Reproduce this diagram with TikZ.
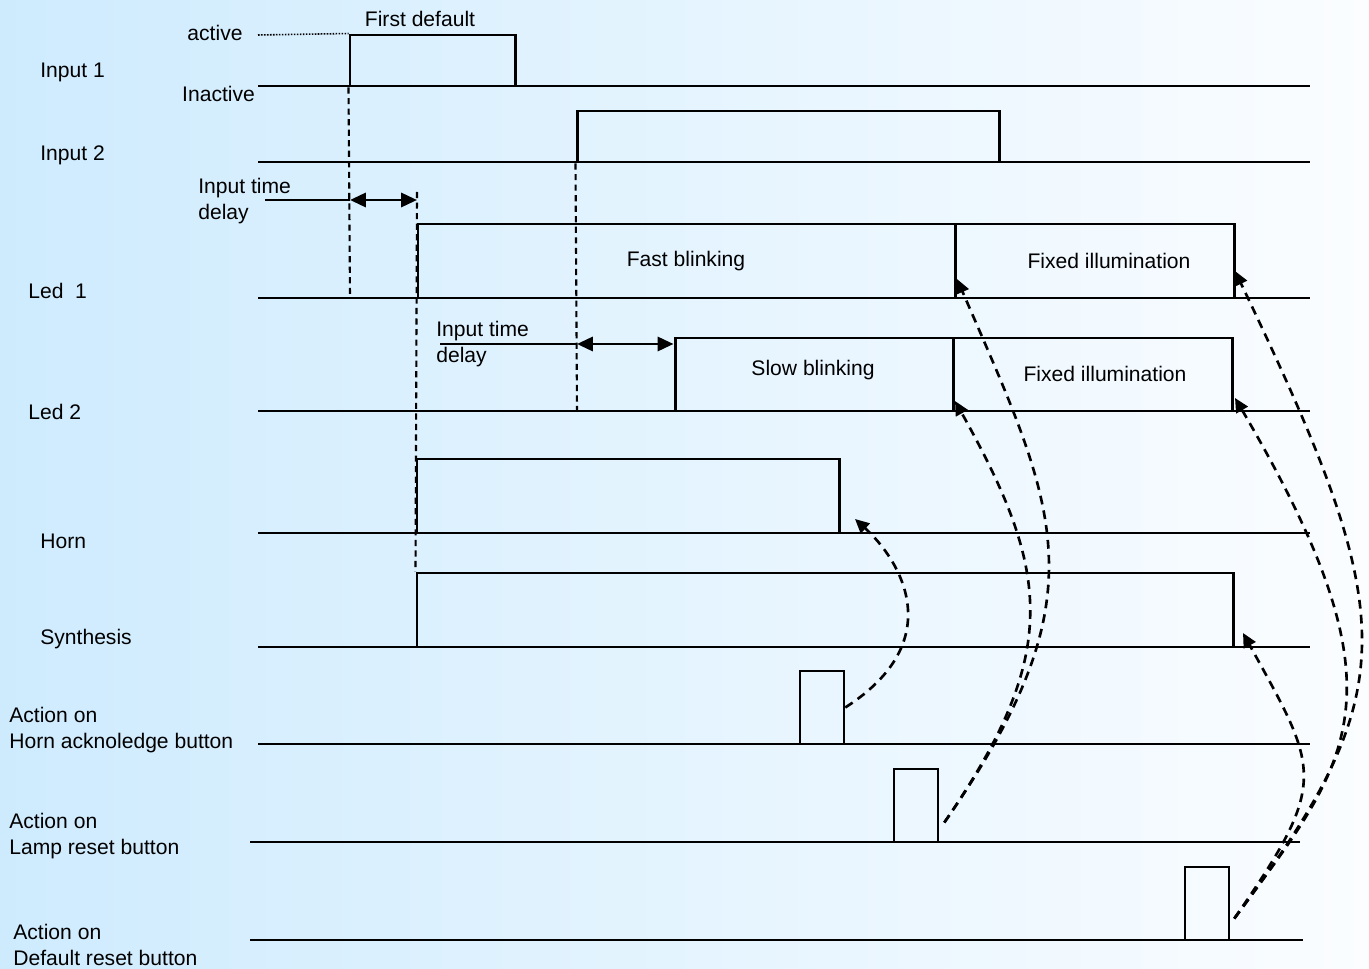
\documentclass[tikz,border=0pt]{standalone}
\usepackage{fontspec}
\setmainfont{Liberation Sans}
\usepackage{tikz}
\usetikzlibrary{arrows.meta, fit}

\definecolor{bgleft}{RGB}{206,235,254}
\definecolor{bgright}{RGB}{251,253,255}

\begin{document}
\begin{tikzpicture}[x=0.02cm, y=-0.02cm, font=\fontsize{12}{14.7}\selectfont,
trace/.style = {line width=1.3pt},
sig/.style = {draw, line width=1.7pt, inner sep=0pt},
btn/.style = {draw, line width=1.5pt, inner sep=0pt},
guide/.style = {line width=1.2pt, dash pattern=on 3.5pt off 2.5pt},
delay/.style = {line width=1.6pt, {Triangle[length=9pt,width=8pt]}-{Triangle[length=9pt,width=8pt]}},
ack/.style = {line width=1.5pt, dash pattern=on 5pt off 3.5pt, -{Triangle[length=8pt,width=7.5pt]}},
lbl/.style = {anchor=west, align=left, inner sep=0pt}]

\useasboundingbox (0,0) rectangle (1369,969);
\shade[left color=bgleft, right color=bgright] (0,0) rectangle (1369,969);

\node[lbl] (n1) at (40,72) {Input 1};
\node[lbl] (n2) at (40,155) {Input 2};
\node[lbl] (n3) at (28,291) {Led\ \ 1};
\node[lbl] (n4) at (28,412) {Led 2};
\node[lbl] (n5) at (40,541) {Horn};
\node[lbl] (n6) at (40,639) {Synthesis};
\node[lbl] (n7) at (9,730) {Action on\\Horn acknoledge button};
\node[lbl] (n8) at (9,836) {Action on\\Lamp reset button};
\node[lbl] (n9) at (13,945) {Action on\\Default reset button};

\foreach \y/\a/\b in {86/258/1310, 162/258/1310, 298/258/1310, 411/258/1310, 533/258/1310, 647/258/1310, 744/258/1310, 842/250/1300, 940/250/1303}
  \draw[trace] (\a,\y) -- (\b,\y);

\node[sig, fit={(350,35) (515,86)}] (in1) {};
\node[sig, fit={(577,111) (999,162)}] (in2) {};
\node[sig, fit={(418,224) (955,298)}] (fast) {};
\node[sig, fit={(955,224) (1234,298)}] (fix1) {};
\node[sig, fit={(675,338) (953,411)}] (slow) {};
\node[sig, fit={(953,338) (1232,411)}] (fix2) {};
\node[sig, fit={(417,459) (839,533)}] (horn) {};
\node[sig, fit={(417,573) (1233,647)}] (syn) {};

\node[btn, fit={(800,671) (844,744)}] (hab) {};
\node[btn, fit={(894,769) (938,842)}] (lrb) {};
\node[btn, fit={(1185,867) (1229,940)}] (drb) {};

\node (act) at (215,33) {active};
\node[anchor=east, inner sep=1pt] (inact) at (257,94) {Inactive};
\node (first) at (420,19) {First default};
\draw[line width=0.9pt, dash pattern=on 0.9pt off 0.8pt] (258,35) -- (in1.north west);

\node at (686,261) {Fast blinking};
\node at (1109,261) {Fixed illumination};
\node at (813,370) {Slow blinking};
\node at (1105,374) {Fixed illumination};

\draw[guide] (in1.south west) -- (350,298);
\draw[guide] (417,192) -- (syn.north west);
\draw[guide] (in2.south west) -- (577,411);

\node[lbl] (d1) at (198,201) {Input time\\delay};
\coordinate (d1a) at (350,200);
\coordinate (d1b) at (417,200);
\draw[line width=1.1pt] (265,200) -- (d1a);
\draw[delay] (d1a) -- (d1b);

\node[lbl] (d2) at (436,344) {Input time\\delay};
\coordinate (d2a) at (577,344);
\draw[line width=1.1pt] (440,344) -- (d2a);
\draw[delay] (d2a) -- (slow.west |- d2a);

\coordinate (hornend) at (855,519);
\coordinate (led1a) at (957,279);
\coordinate (led2a) at (955,401);
\coordinate (led1b) at (1235,271);
\coordinate (led2b) at (1235,398);
\coordinate (synend) at (1243,633);

\draw[ack] (hab.east) .. controls (950,640) and (900,560) .. (hornend);
\draw[ack] ([shift={(5,17)}]lrb.east) .. controls (1103,594) and (1058,512) .. (led1a);
\draw[ack] ([shift={(5,17)}]lrb.east) .. controls (1061,653) and (1051,573) .. (led2a);
\draw[ack] ([shift={(4,15)}]drb.east) .. controls (1405,690) and (1402,620) .. (led1b);
\draw[ack] ([shift={(4,15)}]drb.east) .. controls (1350,760) and (1412,700) .. (led2b);
\draw[ack] ([shift={(4,15)}]drb.east) .. controls (1330,781) and (1319,771) .. (synend);
\end{tikzpicture}
\end{document}
